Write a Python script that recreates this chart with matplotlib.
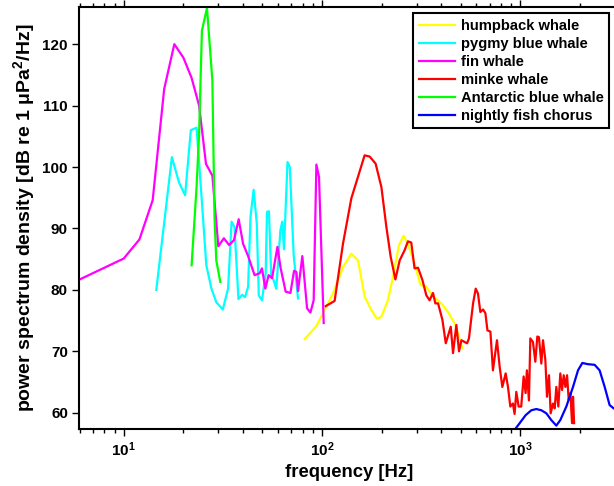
import math
import matplotlib
matplotlib.use("Agg")
import matplotlib.pyplot as plt
from matplotlib.ticker import FixedLocator, FuncFormatter, LogLocator, NullFormatter

plt.rcParams['font.family'] = ['Liberation Sans', 'DejaVu Sans']
plt.rcParams['font.weight'] = 'bold'

# spectra, frequency in Hz and level in dB re 1 uPa^2/Hz
hb_f = [81.8, 93.7, 101.2, 113.6, 127.6, 140.6, 151.9, 164.2, 177.5, 189.3, 199, 215,
        228, 244.5, 258, 271.5, 293, 314, 336, 363, 400, 432, 471, 510]
hb_db = [72.0, 74.1, 76.2, 79.4, 83.7, 85.9, 84.8, 78.9, 76.7, 75.3, 75.6, 78.3,
         82.1, 87.3, 88.8, 87.5, 84.3, 80.8, 80.5, 78.9, 77.8, 76.4, 74.3, 70.5]

pyg_f = [14.6, 17.5, 19.0, 20.4, 21.8, 23.3, 24.7, 26.1, 27.7, 29.3, 31.6, 33.6, 35.0,
         36.2, 37.9, 39.6, 40.9, 42.4, 43.6, 45.2, 46.9, 48.0, 49.8, 52.0, 52.8, 54.0,
         55.5, 57.0, 58.8, 61.7, 63.0, 64.3, 67.0, 68.8, 72.0, 75.7]
pyg_db = [80.0, 101.6, 97.5, 95.4, 106.0, 106.4, 95.1, 84.0, 80.2, 78.0, 76.8, 80.2, 91.1,
          90.2, 78.5, 79.2, 78.8, 80.5, 91.9, 96.3, 90.8, 79.1, 78.3, 82.7, 92.7, 92.8,
          82.1, 81.6, 80.2, 89.7, 91.1, 86.6, 100.8, 100.0, 85.6, 78.6]

fin_f = [6, 10, 12, 14, 16, 18, 20, 22, 24, 26, 28, 30, 32, 34, 36, 38, 40, 42.3, 45.7,
         48.5, 49.8, 51.8, 53.8, 56, 59.6, 61.9, 65.6, 69.3, 72.3, 74.3, 75.7, 79.6, 84.1,
         87.4, 90.8, 93.7, 96.6, 102]
fin_db = [81.7, 85.1, 88.2, 94.6, 112.7, 120.0, 117.8, 114.5, 110.0, 100.5, 98.6, 87.1,
          88.4, 87.3, 88.1, 91.5, 87.5, 85.6, 82.4, 82.7, 83.5, 80.2, 82.4, 81.9, 87.0,
          83.5, 79.7, 79.5, 83.1, 82.9, 79.8, 85.5, 77.0, 76.3, 78.3, 100.4, 98.4, 74.6]

mk_f = [104.4, 115.8, 127.6, 140.6, 151.9, 164, 174, 186.4, 199.3, 211.3, 222, 234.5,
        246.5, 261, 271.3, 282, 293, 305, 321, 336, 349, 363, 373, 385, 405, 421, 446,
        458, 476, 491, 505, 525, 539, 551, 578, 596, 612, 629, 649, 667, 683, 707, 728,
        763, 787, 812, 844, 867, 891, 918, 936, 955, 981, 1011, 1040, 1064, 1080, 1106,
        1124, 1159, 1191, 1219, 1242, 1277, 1302, 1338, 1364, 1396, 1423, 1462, 1491,
        1520, 1556, 1592, 1624, 1656, 1689, 1722, 1755, 1790, 1824, 1846, 1868]
mk_db = [77.35, 78.2, 87.5, 94.9, 98.4, 101.9, 101.7, 100.55, 96.75, 90.2, 85.4, 81.7,
         84.8, 86.45, 87.9, 87.7, 83.5, 83.6, 81.6, 79.1, 78.3, 79.5, 77.8, 77.8, 75.1,
         71.3, 74.0, 69.7, 74.3, 70.0, 71.8, 71.5, 71.3, 72.1, 77.8, 80.2, 79.4, 76.4,
         76.8, 76.2, 73.4, 73.2, 66.9, 71.8, 67.5, 64.2, 66.4, 64.2, 61.0, 61.5, 59.8,
         63.4, 61.0, 61.0, 65.9, 63.2, 66.9, 62.0, 72.1, 71.5, 68.3, 72.4, 72.3, 68.0,
         71.8, 68.6, 62.6, 66.1, 59.9, 61.5, 60.7, 64.2, 61.0, 66.4, 63.7, 66.1, 64.2,
         66.1, 62.1, 63.2, 58.3, 62.6, 58.3]

ab_f = [22, 23.3, 24, 24.8, 26.3, 28, 28.7, 29.3, 30.7]
ab_db = [84.0, 96.7, 105.4, 122.2, 125.9, 114.1, 91.9, 84.8, 81.3]

fc_f = [900, 936, 993, 1064, 1137, 1205, 1277, 1354, 1434, 1520, 1592, 1707, 1845,
        1955, 2056, 2196, 2372, 2513, 2665, 2822, 2960, 3100]
fc_db = [56.5, 57.2, 58.3, 59.6, 60.4, 60.6, 60.4, 59.9, 58.8, 57.9, 58.8, 61.0, 64.2,
         66.9, 68.1, 67.9, 67.8, 66.9, 64.2, 61.25, 60.7, 60.5]

series = [
    (hb_f, hb_db, 'humpback whale', (1, 1, 0)),
    (pyg_f, pyg_db, 'pygmy blue whale', (0, 1, 1)),
    (fin_f, fin_db, 'fin whale', (1, 0, 1)),
    (mk_f, mk_db, 'minke whale', (1, 0, 0)),
    (ab_f, ab_db, 'Antarctic blue whale', (0, 1, 0)),
    (fc_f, fc_db, 'nightly fish chorus', (0, 0, 1)),
]

fig = plt.figure(figsize=(6.14, 4.86), dpi=100)
# axes run a little past the right edge of the figure
ax = fig.add_axes([79 / 614, 57 / 486, 541 / 614, 421.7 / 486])

for f, db, name, col in series:
    ax.plot(f, db, color=col, lw=1.6, label=name)

ax.set_xscale('log')
ax.set_xlim(5.95, 3184)
ax.set_ylim(57.35, 126)
ax.set_yticks([60, 70, 80, 90, 100, 110, 120])
ax.xaxis.set_major_locator(FixedLocator([10, 100, 1000]))
ax.xaxis.set_major_formatter(FuncFormatter(lambda v, p: '10$\\mathregular{^{%d}}$' % round(math.log10(v))))
ax.xaxis.set_minor_locator(LogLocator(base=10, subs=range(2, 10)))
ax.xaxis.set_minor_formatter(NullFormatter())

for s in ['left', 'bottom', 'top']:
    ax.spines[s].set_linewidth(1.5)
ax.spines['right'].set_visible(False)
ax.tick_params(which='both', direction='out', top=True, right=False, width=1.0)
ax.tick_params(which='major', length=5, labelsize=11, pad=3)
ax.tick_params(which='minor', length=3)
for lab in ax.get_xticklabels() + ax.get_yticklabels():
    lab.set_fontweight('bold')

ax.set_xlabel('frequency [Hz]', fontsize=13.3, fontweight='bold', labelpad=4)
ax.set_ylabel('power spectrum density [dB re 1 μPa$\\mathregular{^2}$/Hz]',
              fontsize=14, fontweight='bold', labelpad=4)

leg = ax.legend(loc='upper right', bbox_to_anchor=(609 / 614, 1 - 13.3 / 486),
                bbox_transform=fig.transFigure, borderaxespad=0, fancybox=False,
                framealpha=1, edgecolor='black', prop={'size': 10.6, 'weight': 'bold'},
                handlelength=2.5, handletextpad=0.35, labelspacing=0.27, borderpad=0.38)
leg.get_frame().set_linewidth(1.5)

fig.savefig('out.png', dpi=100)
